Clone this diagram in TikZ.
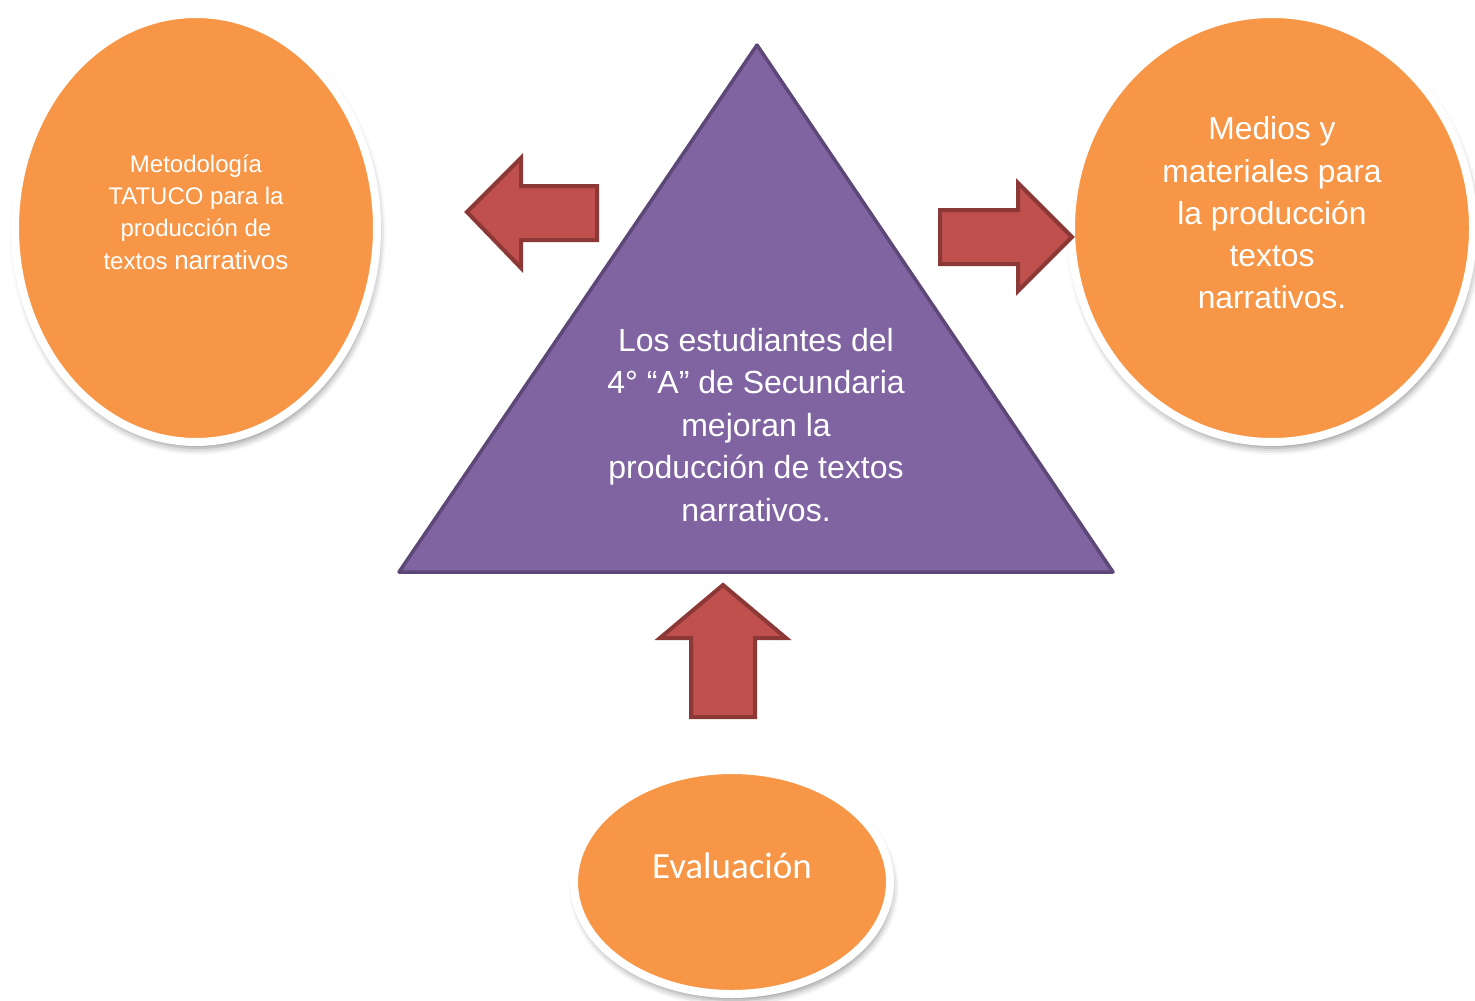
\documentclass[tikz,border=0pt]{standalone}
\usepackage{fontspec}
\setmainfont{Liberation Sans}
\newfontfamily\calibrifont{Carlito}
\usetikzlibrary{shapes.geometric,shadows.blur}
\definecolor{orangefill}{HTML}{F79646}
\definecolor{purplefill}{HTML}{8064A2}
\definecolor{purpleedge}{HTML}{5C4776}
\definecolor{redfill}{HTML}{C0504D}
\definecolor{rededge}{HTML}{8C3836}
\tikzset{
  bubble/.style={ellipse, fill=orangefill, draw=white, line width=8pt,
    blur shadow={shadow xshift=2pt, shadow yshift=-6pt, shadow blur radius=7pt, shadow opacity=45}},
  blockarrow/.style={fill=redfill, draw=rededge, line width=4pt, line join=miter},
  tri/.style={fill=purplefill, draw=purpleedge, line width=3.5pt, line join=round},
  label/.style={text=white, align=center, inner sep=0pt}
}
\begin{document}
\begin{tikzpicture}[x=1pt,y=-1pt]
\useasboundingbox (0,0) rectangle (1475,1001);
% ellipses
\node[bubble, minimum width=362pt, minimum height=428pt] (left) at (196,228) {};
\node[bubble, minimum width=402pt, minimum height=428pt] (right) at (1272,228) {};
\node[bubble, minimum width=316pt, minimum height=224pt] (bottom) at (732,882) {};
% triangle
\coordinate (apex) at (757,45);
\coordinate (bl) at (399,572);
\coordinate (br) at (1113,572);
\draw[tri] (apex) -- (br) -- (bl) -- cycle;
% arrows
\draw[blockarrow] (467,212) -- (521,158) -- (521,186) -- (597,186) -- (597,240) -- (521,240) -- (521,268) -- cycle;
\draw[blockarrow] (1072,237) -- (1018,183) -- (1018,210) -- (940,210) -- (940,264) -- (1018,264) -- (1018,291) -- cycle;
\draw[blockarrow] (723,585) -- (786,638) -- (755,638) -- (755,717) -- (691,717) -- (691,638) -- (660,638) -- cycle;
% texts
\node[label, font=\fontsize{24}{32.3}\selectfont] (lefttext) at (196,212)
  {Metodología\\TATUCO para la\\producción de\\textos {\fontsize{26}{32.3}\selectfont narrativos}};
\node[label, font=\fontsize{31.8}{42.2}\selectfont] (righttext) at (1272,213)
  {Medios y\\materiales para\\la producción\\textos\\narrativos.};
\node[label, font=\fontsize{32}{42.5}\selectfont] (tritext) at (756,425)
  {Los estudiantes del\\4° “A” de Secundaria\\mejoran la\\producción de textos\\narrativos.};
\node[label, font=\calibrifont\fontsize{37}{40}\selectfont] (bottomtext) at (732,866) {Evaluación};
\end{tikzpicture}
\end{document}
